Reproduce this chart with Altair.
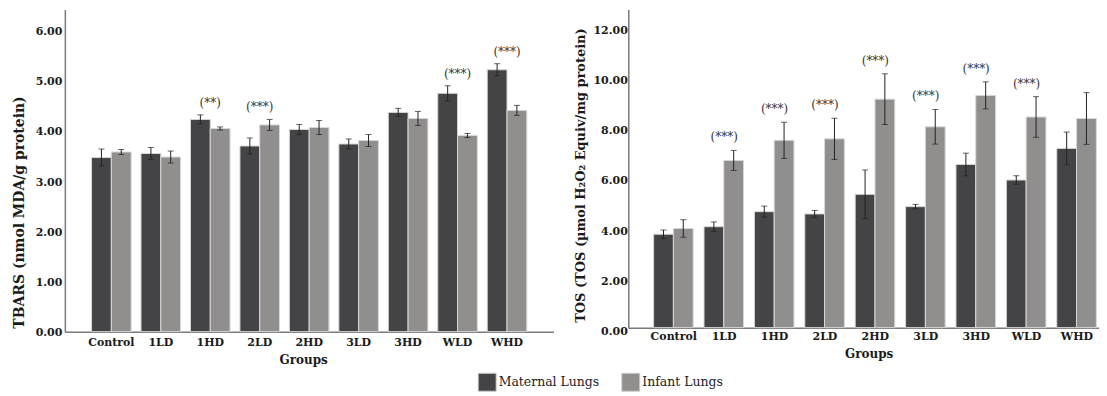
import altair as alt
import pandas as pd

groups = ["Control", "1LD", "1HD", "2LD", "2HD", "3LD", "3HD", "WLD", "WHD"]
series = ["Maternal Lungs", "Infant Lungs"]
colors = ["#444446", "#918e8e"]

tbars_maternal = [3.47, 3.55, 4.23, 3.70, 4.03, 3.74, 4.37, 4.75, 5.22]
tbars_maternal_err = [0.17, 0.12, 0.09, 0.16, 0.10, 0.10, 0.08, 0.15, 0.12]
tbars_infant = [3.58, 3.48, 4.05, 4.12, 4.07, 3.81, 4.25, 3.91, 4.41]
tbars_infant_err = [0.05, 0.12, 0.03, 0.11, 0.14, 0.12, 0.14, 0.04, 0.10]
tbars_sig = ["", "", "(**)", "(***)", "", "", "", "(***)", "(***)"]

tos_maternal = [3.72, 4.02, 4.62, 4.53, 5.31, 4.82, 6.50, 5.88, 7.14]
tos_maternal_err = [0.17, 0.19, 0.22, 0.14, 0.97, 0.09, 0.45, 0.17, 0.65]
tos_infant = [3.95, 6.66, 7.46, 7.52, 9.10, 8.00, 9.25, 8.39, 8.33]
tos_infant_err = [0.35, 0.40, 0.72, 0.82, 1.01, 0.69, 0.54, 0.81, 1.03]
tos_sig = ["", "(***)", "(***)", "(***)", "(***)", "(***)", "(***)", "(***)", ""]

FONT = "DejaVu Serif"


def build_df(mat, mat_err, inf, inf_err):
    rows = []
    for i, g in enumerate(groups):
        for s, m, e in ((series[0], mat[i], mat_err[i]), (series[1], inf[i], inf_err[i])):
            rows.append({"group": g, "series": s, "mean": m, "lo": m - e, "hi": m + e})
    return pd.DataFrame(rows)


def build_ann(mat, mat_err, inf, inf_err, sig):
    rows = []
    for i, g in enumerate(groups):
        if sig[i]:
            rows.append({"group": g, "label": sig[i],
                         "top": max(mat[i] + mat_err[i], inf[i] + inf_err[i])})
    return pd.DataFrame(rows)


def panel(df, ann, ytitle, ymax, width, height, tick_values, title_y, title_pad, title_size,
          label_pad, label_offset, x_label_pad, x_title_x, pad_outer, align, annot_dy):
    xenc = alt.X("group:N", sort=groups,
                 scale=alt.Scale(domain=groups, paddingInner=0.2, paddingOuter=pad_outer, align=align),
                 axis=alt.Axis(title="Groups", labelAngle=0, labelPadding=x_label_pad,
                               titlePadding=7, titleX=x_title_x, titleFontSize=12,
                               labelFontSize=11))
    yscale = alt.Scale(domain=[0, ymax], nice=False, zero=True)
    yaxis = alt.Axis(title=ytitle, values=tick_values, format=".2f", labelPadding=label_pad,
                     labelOffset=label_offset, titlePadding=title_pad, titleY=title_y,
                     titleFontSize=title_size, labelFontSize=11)
    xoff = alt.XOffset("series:N", sort=series, scale=alt.Scale(domain=series, paddingInner=0.0))
    color = alt.Color("series:N", sort=series, scale=alt.Scale(domain=series, range=colors),
                      legend=alt.Legend(title=None))

    base = alt.Chart(df)
    bars = base.mark_bar(stroke="#d8d8d8", strokeWidth=1).encode(
        x=xenc, xOffset=xoff, y=alt.Y("mean:Q", scale=yscale, axis=yaxis), color=color)
    rule = base.mark_rule(color="#222222", strokeWidth=1).encode(
        x=xenc, xOffset=xoff, y=alt.Y("lo:Q", scale=yscale, axis=yaxis), y2="hi:Q")
    cap_lo = base.mark_tick(color="#222222", thickness=1, size=6).encode(
        x=xenc, xOffset=xoff, y=alt.Y("lo:Q", scale=yscale, axis=yaxis))
    cap_hi = base.mark_tick(color="#222222", thickness=1, size=6).encode(
        x=xenc, xOffset=xoff, y=alt.Y("hi:Q", scale=yscale, axis=yaxis))
    text = alt.Chart(ann).mark_text(font=FONT, fontSize=12, color="#333333",
                                    baseline="middle", dy=annot_dy).encode(
        x=xenc, y=alt.Y("top:Q", scale=yscale, axis=yaxis), text="label:N")
    return alt.layer(bars, rule, cap_lo, cap_hi, text).properties(width=width, height=height)


left = panel(build_df(tbars_maternal, tbars_maternal_err, tbars_infant, tbars_infant_err),
             build_ann(tbars_maternal, tbars_maternal_err, tbars_infant, tbars_infant_err, tbars_sig),
             "TBARS (nmol MDA/g protein)", 6.42, 490, 323, [0, 1, 2, 3, 4, 5, 6],
             203, 9, 14, 3, 1, 5, 239, 0.54, 0.5, -12)

right = panel(build_df(tos_maternal, tos_maternal_err, tos_infant, tos_infant_err),
              build_ann(tos_maternal, tos_maternal_err, tos_infant, tos_infant_err, tos_sig),
              "TOS (TOS (µmol H₂O₂ Equiv/mg protein)", 12.67, 472, 319,
              [0, 2, 4, 6, 8, 10, 12],
              166, 5, 13, 1, 4, 3, 241, 0.27, 0.93, -13)

chart = alt.hconcat(left, right, spacing=21).resolve_scale(color="shared").properties(
    padding={"left": 4, "top": 1, "right": 0, "bottom": 0}
).configure_view(stroke=None).configure_axis(
    labelFont=FONT, labelFontWeight="bold", labelColor="#1a1a1a",
    titleFont=FONT, titleFontWeight="bold", titleColor="#1a1a1a",
    domainColor="#7a7a7a", domainWidth=1.5, ticks=False, grid=False
).configure_legend(
    orient="none", legendX=414, legendY=364, direction="horizontal",
    symbolType="square", symbolSize=324, symbolStrokeColor="#cccccc", symbolStrokeWidth=1,
    symbolOpacity=1, labelFont=FONT, labelFontSize=12.5, labelFontWeight="normal",
    labelColor="#222222", labelOffset=2, columnPadding=20
)

chart.save("out.html", embed_options={"renderer": "svg", "actions": False})
